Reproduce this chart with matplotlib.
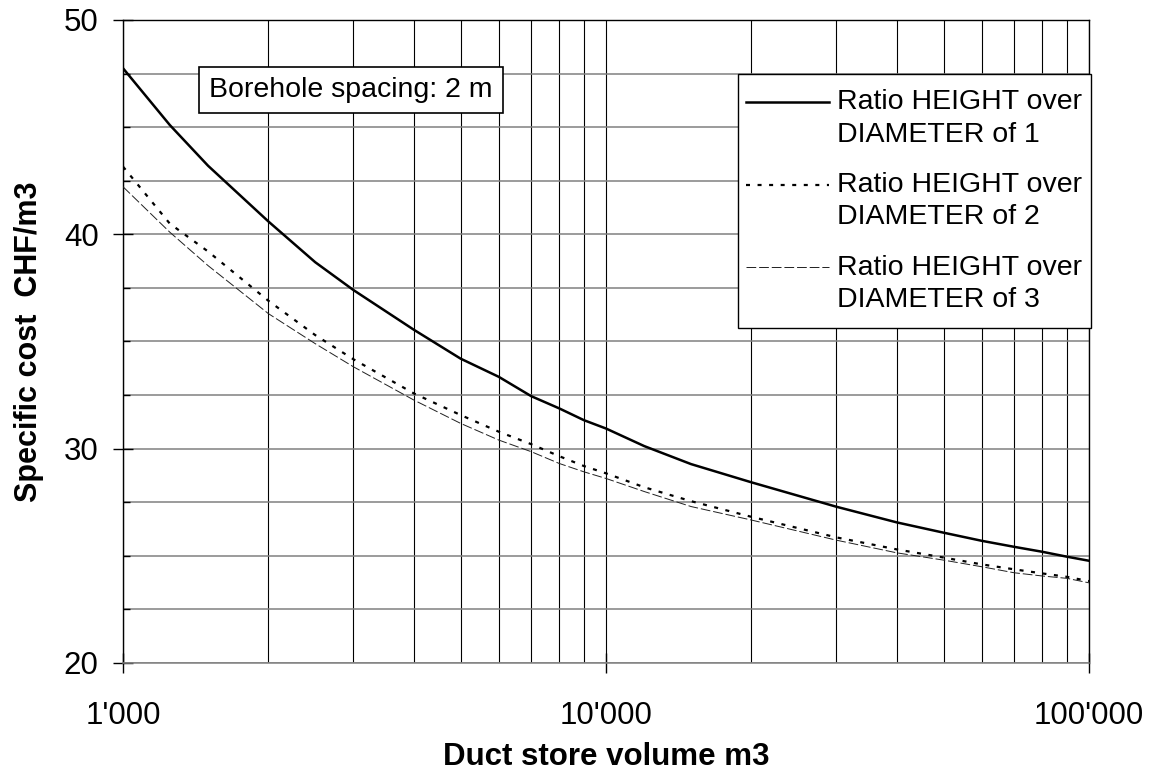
import numpy as np
import matplotlib
matplotlib.use("Agg")
from matplotlib import pyplot as plt
from matplotlib.lines import Line2D
from matplotlib.path import Path
from matplotlib.legend_handler import HandlerLine2D
from matplotlib.ticker import FixedLocator, NullFormatter, MultipleLocator

plt.rcParams['font.family'] = ['Liberation Sans', 'DejaVu Sans']

# duct store volume (m3)
volume = [1000, 1250, 1500, 2000, 2500, 3000, 4000, 5000, 6000, 7000, 8000,
          9000, 10000, 12000, 15000, 20000, 30000, 40000, 50000, 60000,
          70000, 80000, 90000, 100000]

# specific cost CHF/m3 for height/diameter ratios 1, 2, 3
cost_ratio1 = [47.75, 45.1, 43.2, 40.6, 38.7, 37.4, 35.55, 34.2, 33.35, 32.45,
               31.88, 31.33, 30.94, 30.12, 29.28, 28.43, 27.29, 26.56, 26.08,
               25.70, 25.42, 25.19, 24.96, 24.77]
cost_ratio2 = [43.16, 40.5, 39.2, 36.9, 35.3, 34.17, 32.58, 31.57, 30.79,
               30.21, 29.65, 29.19, 28.85, 28.2, 27.55, 26.82, 25.86, 25.30,
               24.92, 24.60, 24.37, 24.18, 24.02, 23.82]
cost_ratio3 = [42.22, 40.1, 38.54, 36.3, 34.9, 33.82, 32.27, 31.18, 30.40,
               29.86, 29.31, 28.92, 28.61, 28.0, 27.3, 26.67, 25.73, 25.14,
               24.80, 24.49, 24.21, 24.06, 23.95, 23.74]

labels = ["Ratio HEIGHT over\nDIAMETER of 1",
          "Ratio HEIGHT over\nDIAMETER of 2",
          "Ratio HEIGHT over\nDIAMETER of 3"]

x_ticks = [1000, 10000, 100000]
x_ticklabels = ["1'000", "10'000", "100'000"]
y_ticks = [20, 30, 40, 50]

LEG_FS = 20.5
LEG_LINESPACING = 1.32
EXTRA_Y = 0.24  # extra vertical frame padding, in fontsize units


class FirstLineHandler(HandlerLine2D):
    # put the legend line next to the first text line, not the middle
    def create_artists(self, legend, orig_handle, xdescent, ydescent,
                       width, height, fontsize, trans):
        shift = LEG_FS * 1.16
        return super().create_artists(legend, orig_handle, xdescent,
                                      ydescent - shift, width, height,
                                      fontsize, trans)


def tall_box(x0, y0, width, height, mutation_size):
    dy = EXTRA_Y * mutation_size
    return Path([(x0, y0 - dy), (x0 + width, y0 - dy),
                 (x0 + width, y0 + height + dy), (x0, y0 + height + dy),
                 (x0, y0 - dy)], closed=True)


W, H = 1154, 778
fig = plt.figure(figsize=(W / 100, H / 100), dpi=100)
ax = fig.add_axes([123 / W, 1 - 663 / H, (1089 - 123) / W, (663 - 20) / H])

ax.plot(volume, cost_ratio1, color='black', lw=1.8, label=labels[0], zorder=5)
ax.plot(volume, cost_ratio2, color='black', lw=1.6, linestyle=(0, (1.8, 3.4)),
        label=labels[1], zorder=4)
ax.plot(volume, cost_ratio3, color='#202020', lw=0.7, linestyle=(0, (10, 3)),
        label=labels[2], zorder=3)

ax.set_xscale('log')
ax.set_xlim(1000, 100000)
ax.set_ylim(20, 50)

ax.xaxis.set_major_locator(FixedLocator(x_ticks))
ax.set_xticklabels(x_ticklabels)
minor_x = [m * d for d in (1000, 10000) for m in range(2, 10)]
ax.xaxis.set_minor_locator(FixedLocator(minor_x))
ax.xaxis.set_minor_formatter(NullFormatter())
ax.set_yticks(y_ticks)
ax.yaxis.set_minor_locator(MultipleLocator(2.5))

ax.grid(True, axis='y', which='both', color='#808080', lw=1.1, zorder=0)
ax.grid(True, axis='x', which='both', color='black', lw=0.8, zorder=0)
ax.set_axisbelow(True)

ax.tick_params(axis='both', which='major', direction='inout', length=14,
               width=1, labelsize=22.5, color='black')
ax.tick_params(axis='y', which='major', pad=10.5)
ax.tick_params(axis='x', which='major', pad=20)
ax.tick_params(axis='y', which='minor', direction='in', length=5, width=1)
ax.tick_params(axis='x', which='minor', length=0)

for side in ('left', 'top', 'right'):
    ax.spines[side].set_color('black')
    ax.spines[side].set_linewidth(1)
ax.spines['bottom'].set_color('#808080')
ax.spines['bottom'].set_linewidth(1.1)

ax.set_xlabel("Duct store volume m3", fontsize=22.5, fontweight='bold',
              va='center')
ax.xaxis.set_label_coords(0.5, -(757 - 663) / 643)
ax.set_ylabel("Specific cost  CHF/m3", fontsize=22, fontweight='bold',
              va='center')
ax.yaxis.set_label_coords(-(123 - 29) / 966, 0.5)

leg_top = 74 + EXTRA_Y * LEG_FS * 100 / 72
leg = ax.legend(loc='upper right', bbox_to_anchor=(1091 / W, 1 - leg_top / H),
                bbox_transform=fig.transFigure, borderaxespad=0,
                fontsize=LEG_FS, frameon=True, fancybox=False, framealpha=1,
                handlelength=2.9, handletextpad=0.3, borderpad=0.3,
                labelspacing=0.85, handler_map={Line2D: FirstLineHandler()})
for t in leg.get_texts():
    t.set_linespacing(LEG_LINESPACING)
leg.get_frame().set_boxstyle(tall_box)
leg.get_frame().set_edgecolor('black')
leg.get_frame().set_linewidth(1)

fig.text(209 / W, 1 - 90 / H, "Borehole spacing: 2 m", fontsize=LEG_FS,
         ha='left', va='center',
         bbox=dict(boxstyle='square,pad=0.36', facecolor='white',
                   edgecolor='black', lw=1.2))

fig.savefig("out.png", dpi=100)
